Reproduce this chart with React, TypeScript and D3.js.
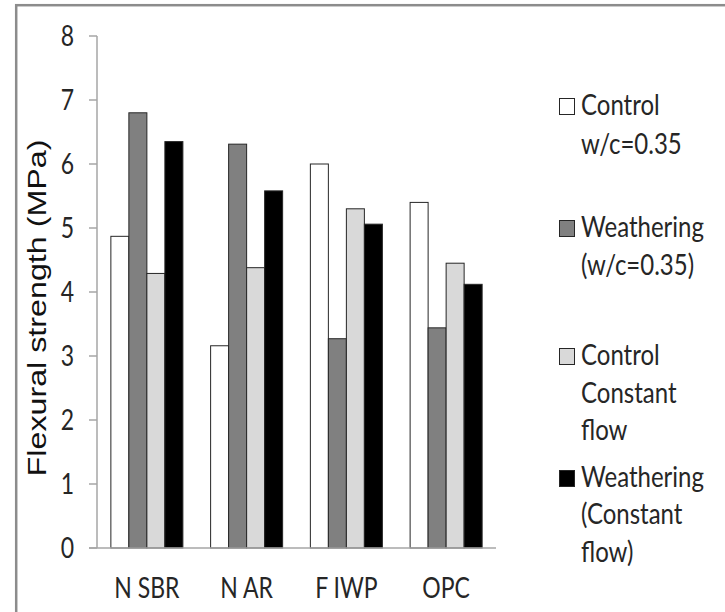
import React from "react";
import * as d3 from "d3";

const categories = ["N SBR", "N AR", "F IWP", "OPC"];
const seriesNames = ["Control w/c=0.35", "Weathering (w/c=0.35)", "Control Constant flow", "Weathering (Constant flow)"];
const controlWc = [4.87, 3.16, 6.0, 5.4];
const weatheringWc = [6.8, 6.31, 3.27, 3.44];
const controlFlow = [4.29, 4.38, 5.3, 4.45];
const weatheringFlow = [6.35, 5.58, 5.06, 4.12];
const yTicks = [0, 1, 2, 3, 4, 5, 6, 7, 8];
const legendLines = [
  ["Control", "w/c=0.35"],
  ["Weathering", "(w/c=0.35)"],
  ["Control", "Constant", "flow"],
  ["Weathering", "(Constant", "flow)"],
];

const seriesValues = [controlWc, weatheringWc, controlFlow, weatheringFlow];
const colors = ["#ffffff", "#808080", "#d9d9d9", "#000000"];

const W = 725;
const H = 612;
const left = 97;
const right = 496;
const top = 36;
const bottom = 548;
const SY = 1.22;
const FONT = "Lato, 'DejaVu Sans', sans-serif";

export default function App() {
  const x = d3.scaleBand<string>().domain(categories).range([left, right]).paddingInner(0.278).paddingOuter(0.139);
  const xs = d3.scaleBand<number>().domain(d3.range(seriesNames.length)).range([0, x.bandwidth()]).padding(0);
  const y = d3.scaleLinear().domain([0, 8]).range([bottom, top]);

  const legendBase = [[115, 154], [237, 275], [365, 403, 440], [487, 524, 562]];

  return (
    <svg width={W} height={H} style={{ position: "absolute", left: 0, top: 0, background: "#fff" }}>
      <rect x={0} y={0} width={W} height={H} fill="#fff" />
      <rect x={16.2} y={5.2} width={W + 20} height={H + 20} fill="none" stroke="#8c8c8c" strokeWidth={2.5} />

      {/* bars */}
      {seriesValues.map((vals, si) =>
        vals.map((v, ci) => (
          <rect
            key={`${si}-${ci}`}
            x={(x(categories[ci]) as number) + (xs(si) as number)}
            y={y(v)}
            width={xs.bandwidth()}
            height={y(0) - y(v)}
            fill={colors[si]}
            stroke="#262626"
            strokeWidth={1}
          />
        ))
      )}

      {/* y axis */}
      <line x1={left} x2={left} y1={top} y2={bottom} stroke="#a6a6a6" strokeWidth={1.5} />
      {yTicks.map((t) => (
        <g key={t}>
          <line x1={left - 8} x2={left} y1={y(t)} y2={y(t)} stroke="#a6a6a6" strokeWidth={1.5} />
          <text
            transform={`translate(${left - 23},${y(t) + 10}) scale(1,${SY})`}
            textAnchor="end"
            fontFamily={FONT}
            fontSize={23}
            fill="#262626"
          >
            {t}
          </text>
        </g>
      ))}
      {/* x axis */}
      <line x1={left - 8} x2={right} y1={bottom} y2={bottom} stroke="#a6a6a6" strokeWidth={1.5} />
      {categories.map((c) => (
        <text
          key={c}
          transform={`translate(${(x(c) as number) + x.bandwidth() / 2},598) scale(1,${SY})`}
          textAnchor="middle"
          fontFamily={FONT}
          fontSize={23}
          fill="#262626"
        >
          {c}
        </text>
      ))}

      {/* y title */}
      <text
        transform={`translate(46,308) rotate(-90) scale(1.29,1)`}
        textAnchor="middle"
        fontFamily="'Liberation Sans', Arial, sans-serif"
        fontSize={25}
        fill="#111"
      >
        Flexural strength (MPa)
      </text>

      {/* legend */}
      {legendLines.map((lines, i) => (
        <g key={i}>
          <rect
            x={559.5}
            y={legendBase[i][0] - 16.5}
            width={15}
            height={16}
            fill={colors[i]}
            stroke="#262626"
            strokeWidth={1}
          />
          {lines.map((ln, j) => (
            <text
              key={j}
              transform={`translate(581,${legendBase[i][j]}) scale(1,${SY})`}
              fontFamily={FONT}
              fontSize={24}
              fill="#262626"
            >
              {ln}
            </text>
          ))}
        </g>
      ))}
    </svg>
  );
}
